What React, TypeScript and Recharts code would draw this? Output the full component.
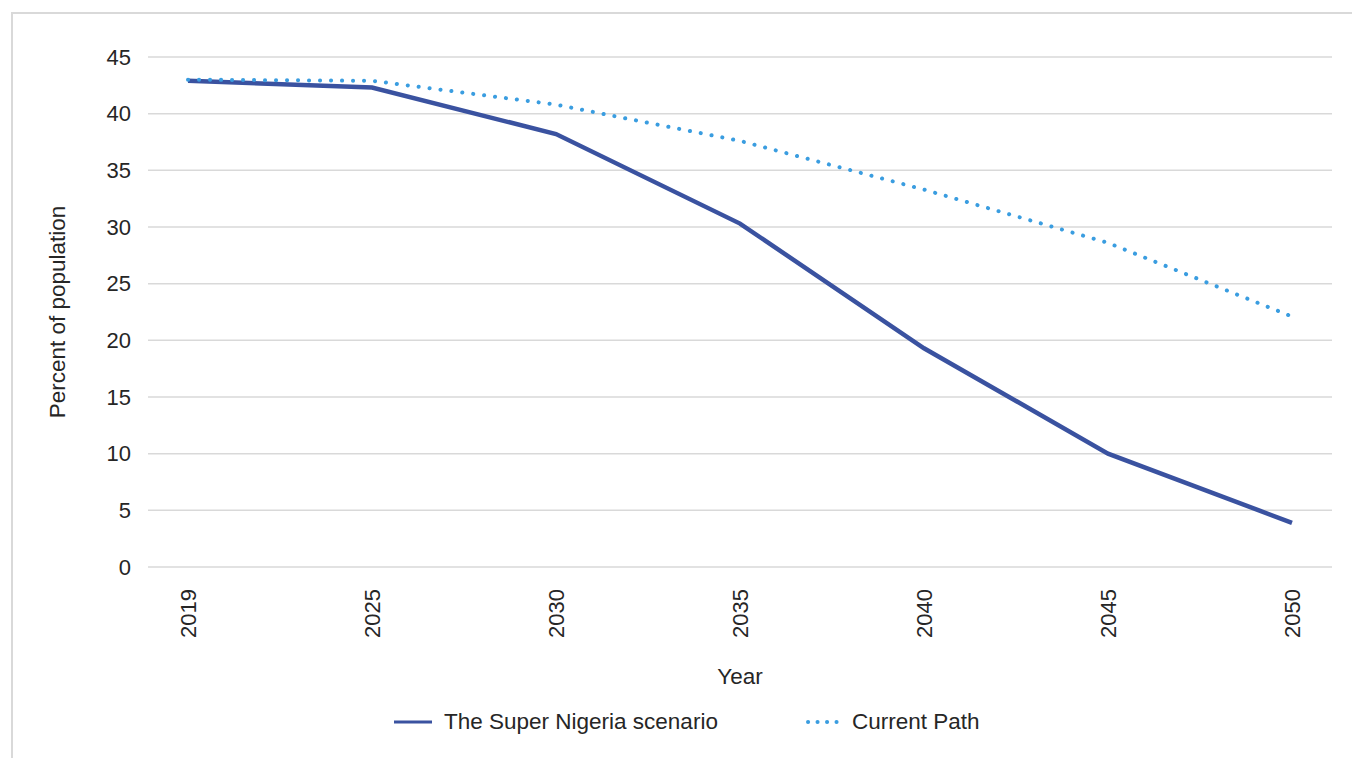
import React from 'react';
import { LineChart, Line, XAxis, YAxis, CartesianGrid, Legend } from 'recharts';

const years = ['2019', '2025', '2030', '2035', '2040', '2045', '2050'];
const superNigeria = [42.9, 42.3, 38.2, 30.3, 19.3, 10.0, 3.9];
const currentPath = [43.0, 42.9, 40.8, 37.6, 33.3, 28.6, 22.1];
const yTicks = [0, 5, 10, 15, 20, 25, 30, 35, 40, 45];

const data = years.map((year, i) => ({
  year,
  superNigeria: superNigeria[i],
  currentPath: currentPath[i],
}));

const FONT = '"Liberation Sans", Arial, sans-serif';
const TEXT = '#262626';
const DARK = '#3a52a0';
const LIGHT = '#3a9de0';

const YearTick = (props: any) => {
  const { x, y, payload } = props;
  return (
    <text
      x={x}
      y={y + 22}
      transform={`rotate(-90, ${x}, ${y + 22})`}
      textAnchor="end"
      dy="0.36em"
      fill={TEXT}
      fontSize={22}
      fontFamily={FONT}
    >
      {payload.value}
    </text>
  );
};

const renderLegend = () => (
  <div
    style={{
      height: 32,
      display: 'flex',
      alignItems: 'center',
      paddingLeft: 386,
      fontFamily: FONT,
      fontSize: 22.5,
      color: TEXT,
    }}
  >
    <svg width={38} height={10} style={{ marginRight: 12 }}>
      <line x1={0} y1={5} x2={38} y2={5} stroke={DARK} strokeWidth={3} />
    </svg>
    <span style={{ width: 362, whiteSpace: 'nowrap' }}>The Super Nigeria scenario</span>
    <svg width={34} height={10} style={{ marginRight: 12 }}>
      <line
        x1={2}
        y1={5}
        x2={34}
        y2={5}
        stroke={LIGHT}
        strokeWidth={4}
        strokeLinecap="round"
        strokeDasharray="0.1 9.4"
      />
    </svg>
    <span>Current Path</span>
  </div>
);

export default function App() {
  return (
    <div style={{ position: 'relative', width: 1352, height: 750, overflow: 'hidden', background: '#fff' }}>
      <div
        style={{
          position: 'absolute',
          left: 3,
          top: 4,
          right: 0,
          bottom: 0,
          borderTop: '2px solid #d9d9d9',
          borderLeft: '2px solid #d9d9d9',
        }}
      />
      <div style={{ position: 'absolute', left: 0, top: 0 }}>
        <LineChart width={1352} height={750} data={data} margin={{ top: 49, right: 28, bottom: 20, left: 0 }}>
          <CartesianGrid vertical={false} stroke="#d9d9d9" strokeWidth={1.5} />
          <XAxis
            dataKey="year"
            axisLine={false}
            tickLine={false}
            tickSize={0}
            tickMargin={0}
            height={139}
            interval={0}
            padding={{ left: 40, right: 40 }}
            tick={<YearTick />}
            label={{ value: 'Year', position: 'insideTop', dy: 96, fill: TEXT, fontSize: 22.5, fontFamily: FONT }}
          />
          <YAxis
            width={140}
            domain={[0, 45]}
            ticks={yTicks}
            axisLine={false}
            tickLine={false}
            tickSize={0}
            tickMargin={17}
            tick={{ fill: TEXT, fontSize: 22, fontFamily: FONT }}
            label={{
              value: 'Percent of population',
              angle: -90,
              position: 'insideLeft',
              dx: 44,
              fill: TEXT,
              fontSize: 22.5,
              fontFamily: FONT,
              style: { textAnchor: 'middle' },
            }}
          />
          <Legend verticalAlign="bottom" height={32} content={renderLegend} />
          <Line
            type="linear"
            dataKey="superNigeria"
            name="The Super Nigeria scenario"
            stroke={DARK}
            strokeWidth={4.5}
            dot={false}
            isAnimationActive={false}
          />
          <Line
            type="linear"
            dataKey="currentPath"
            name="Current Path"
            stroke={LIGHT}
            strokeWidth={4}
            strokeLinecap="round"
            strokeDasharray="0.1 10.9"
            dot={false}
            isAnimationActive={false}
          />
        </LineChart>
      </div>
    </div>
  );
}
